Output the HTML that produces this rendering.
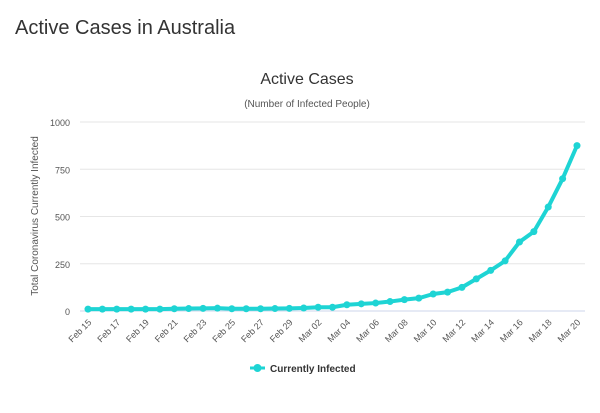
<!DOCTYPE html>
<html><head><meta charset="utf-8"><style>
body{margin:0;width:600px;height:413px;background:#fff;font-family:"Liberation Sans",sans-serif;overflow:hidden}
</style></head><body>
<div style="position:absolute;left:15px;top:17px;font-size:20px;color:#333">Active Cases in Australia</div>
<svg id="chart" width="600" height="413" style="position:absolute;left:0;top:0">
<text x="307" y="84" text-anchor="middle" font-size="16" fill="#333">Active Cases</text>
<text x="307" y="107" text-anchor="middle" font-size="10" fill="#555">(Number of Infected People)</text>
<text transform="translate(38,216) rotate(-90)" text-anchor="middle" font-size="10" fill="#555">Total Coronavirus Currently Infected</text>
<g id="grid"></g><g id="xt"></g><g id="series"></g>
<g>
<line x1="250" y1="368" x2="265" y2="368" stroke="#1ed4d4" stroke-width="3"/>
<circle cx="257.5" cy="368" r="4" fill="#1ed4d4"/>
<text x="270" y="372" font-size="10" font-weight="bold" fill="#333">Currently Infected</text></g>
</svg>
<script>
const categories=["Feb 15","Feb 16","Feb 17","Feb 18","Feb 19","Feb 20","Feb 21","Feb 22","Feb 23","Feb 24","Feb 25","Feb 26","Feb 27","Feb 28","Feb 29","Mar 01","Mar 02","Mar 03","Mar 04","Mar 05","Mar 06","Mar 07","Mar 08","Mar 09","Mar 10","Mar 11","Mar 12","Mar 13","Mar 14","Mar 15","Mar 16","Mar 17","Mar 18","Mar 19","Mar 20"];
const values=[10,10,10,10,10,10,12,13,14,15,12,12,12,13,14,16,20,20,33,38,42,50,60,68,90,100,125,170,215,265,365,420,550,700,875];
const yTicks=[0,250,500,750,1000];
const NS="http://www.w3.org/2000/svg";
const x0=88,x1=577,yb=311,yt=122;
const X=i=>x0+(x1-x0)*i/(categories.length-1);
const Y=v=>yb-(yb-yt)*v/1000;
function mk(t,a,p){const e=document.createElementNS(NS,t);for(const k in a)e.setAttribute(k,a[k]);p.appendChild(e);return e;}
const grid=document.getElementById('grid');
yTicks.forEach(v=>{
 const l=mk('line',{x1:80,x2:585,y1:Y(v),y2:Y(v),stroke:v?'#e6e6e6':'#ccd6eb'},grid);
 
 
 const t=mk('text',{x:70,y:Y(v)+4,'text-anchor':'end','font-size':9,fill:'#555'},grid);
 
 
 t.textContent=v;
});
const xt=document.getElementById('xt');
categories.forEach((c,i)=>{
 if(i%2)return;
 const t=mk('text',{transform:`translate(${X(i)+4},${yb+12}) rotate(-45)`,'text-anchor':'end','font-size':9,fill:'#555'},xt);
 
 
 t.textContent=c.replace(' 0',' 0');
});
const s=document.getElementById('series');
const p=mk('polyline',{points:values.map((v,i)=>X(i)+','+Y(v)).join(' '),fill:'none',stroke:'#1ed4d4','stroke-width':4,'stroke-linejoin':'round'},s);


values.forEach((v,i)=>{
 const c=mk('circle',{cx:X(i),cy:Y(v),r:3.5,fill:'#1ed4d4'},s);
 
 
});
</script>
</body></html>
